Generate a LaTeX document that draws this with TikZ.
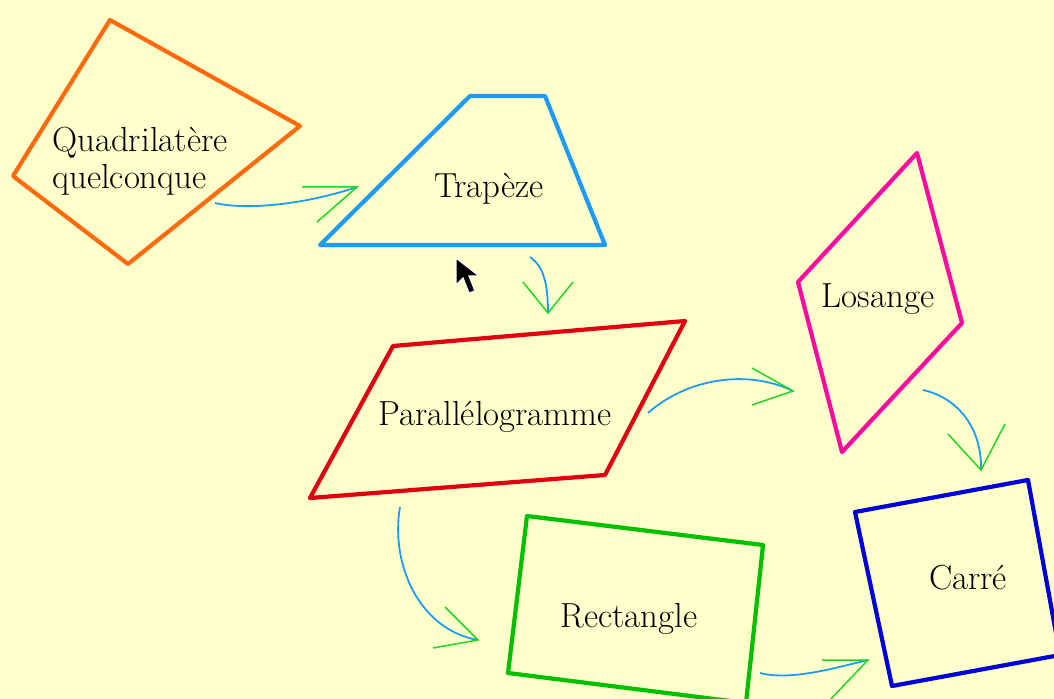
\documentclass[tikz,border=0pt]{standalone}
\usetikzlibrary{positioning}
\definecolor{fond}{HTML}{FFFFCC}
\definecolor{orange}{HTML}{FF6A0E}
\definecolor{bleuciel}{HTML}{1E9BF8}
\definecolor{rouge}{HTML}{E00010}
\definecolor{rose}{HTML}{FF0AA0}
\definecolor{vert}{HTML}{00C000}
\definecolor{bleu}{HTML}{0000DD}
\definecolor{vertclair}{HTML}{22D422}
\tikzset{
  forme/.style={line width=2.1pt, line join=round},
  nom/.style={font=\fontsize{17.4}{18.5}\selectfont, inner sep=0pt},
  courbe/.style={bleuciel, line width=0.9pt},
  pointe/.style={vertclair, line width=0.75pt}
}

\begin{document}
\begin{tikzpicture}[x=0.5pt, y=-0.5pt]
\fill[fond] (0,0) rectangle (1054,699);
\useasboundingbox (0,0) rectangle (1054,699);
\clip (0,0) rectangle (1054,699);

% Quadrilateres
\draw[forme, orange] (110,20) -- (300,126) -- (128,264) -- (13,176) -- cycle;
\draw[forme, bleuciel] (470,96) -- (545,96) -- (605,245) -- (320,245) -- cycle;
\draw[forme, rose] (917,153) -- (962,323) -- (842,452) -- (798,282) -- cycle;
\draw[forme, rouge] (393,346) -- (685,321) -- (605,475) -- (310,498) -- cycle;
\draw[forme, vert] (527,516) -- (763,545) -- (746,703) -- (508,673) -- cycle;
\draw[forme, bleu] (855,512) -- (1028,480) -- (1060,655) -- (892,686) -- cycle;

% Noms
\node[nom, anchor=west, align=left] (quelc) at (52,161) {Quadrilatère\\quelconque};
\node[nom] (trap) at (489,189) {Trapèze};
\node[nom] (los) at (878,299) {Losange};
\node[nom] (para) at (495,417) {Parallélogramme};
\node[nom] (rect) at (629,619) {Rectangle};
\node[nom] (carre) at (968,578) {Carré};

% Fleches
\coordinate (d1) at (215,203); \coordinate (f1) at (357,187);
\coordinate (d2) at (530,257); \coordinate (f2) at (548,313);
\coordinate (d3) at (648,413); \coordinate (f3) at (793,391);
\coordinate (d4) at (923,390); \coordinate (f4) at (981,470);
\coordinate (d5) at (400,507); \coordinate (f5) at (478,640);
\coordinate (d6) at (760,673); \coordinate (f6) at (868,660);

\draw[courbe] (d1) .. controls (250,211) and (310,203) .. (f1);
\draw[pointe] (302,187) -- (f1) -- (317,222);

\draw[courbe] (d2) .. controls (543,266) and (548,282) .. (f2);
\draw[pointe] (523,282) -- (f2) -- (573,282);

\draw[courbe] (d3) .. controls (685,380) and (745,368) .. (f3);
\draw[pointe] (752,368) -- (f3) -- (752,405);

\draw[courbe] (d4) .. controls (955,397) and (982,425) .. (f4);
\draw[pointe] (948,434) -- (f4) -- (1005,424);

\draw[courbe] (d5) .. controls (390,565) and (420,630) .. (f5);
\draw[pointe] (445,607) -- (f5) -- (433,648);

\draw[courbe] (d6) .. controls (790,681) and (835,668) .. (f6);
\draw[pointe] (822,660) -- (f6) -- (828,702);

% Curseur
\draw[fill=black, draw=white, line width=0.6pt, line join=miter]
  (456,258) -- (456,285) -- (463,278) -- (469,293) -- (475,291) -- (469,276) -- (479,276) -- cycle;
\end{tikzpicture}
\end{document}
